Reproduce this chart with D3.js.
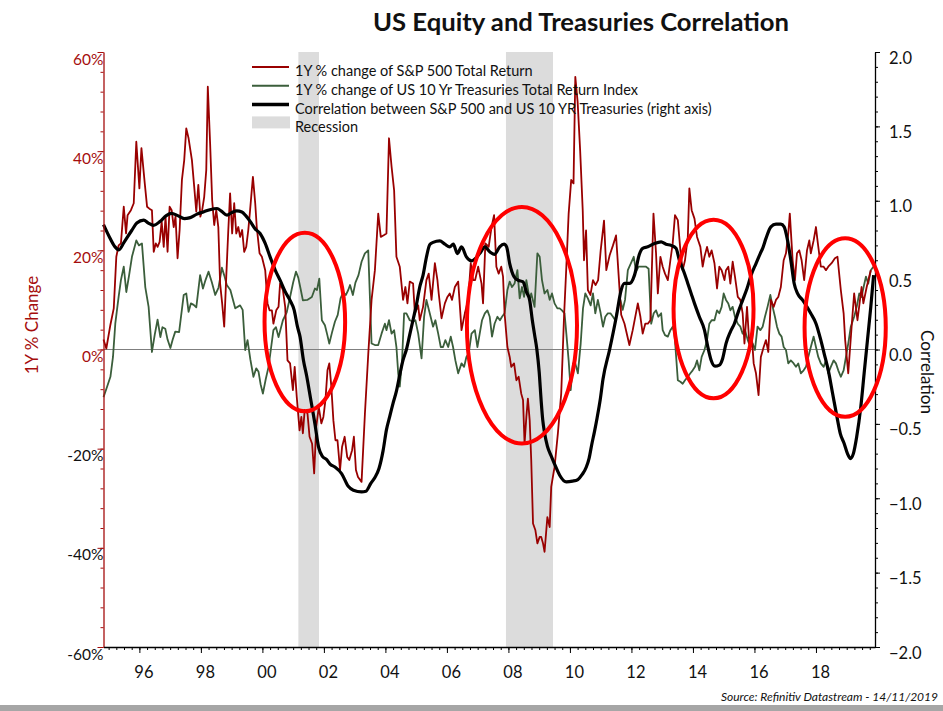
<!DOCTYPE html>
<html>
<head>
<meta charset="utf-8">
<script src="https://cdn.jsdelivr.net/npm/d3@7"></script>
<style>
  body { margin: 0; background: #fff; }
  text { font-family: Lato, "Open Sans", sans-serif; }
</style>
</head>
<body>
<svg width="943" height="711"></svg>
<script>
// monthly observations, first one is Nov 1994
const START = 1994 + 10 / 12;
const END = 2019.92;

// [months since Nov 1994, 1Y % change of S&P 500 total return]
const spx = [
  [0,2],[1.1,0.2],[2.7,5],[4,8.3],[5,18.7],[5.9,21],[6.8,21.4],[7.9,28.8],[8.8,23.4],[9.4,27.1],
  [10.7,28.1],[11.8,29.5],[12.8,41.9],[14,32.5],[14.8,40.6],[16.1,33.5],[17,28.8],[17.9,28.4],[18.9,28.1],
  [19.6,19.7],[20.4,21.4],[21.1,20.7],[21.9,21.7],[22.7,25.8],[23.5,20.7],[24.2,26.8],[25,19.7],[25.8,28.8],
  [26.6,28.1],[27.4,24.7],[28.1,26.8],[28.9,18.4],[29.7,24.1],[30.6,34.2],[31.5,38.2],[32.3,44.6],[33.2,42.6],
  [33.9,40.2],[34.5,38.2],[35.4,32.8],[36.2,27.8],[37,33.2],[37.8,26.8],[38.5,28.1],[39.3,30.8],[40.1,36.2],
  [40.7,53],[41.6,41.6],[42.4,30.1],[43.2,25.1],[44,28.1],[44.8,24.7],[45.5,13.3],[46.3,9.3],[47.1,4.6],
  [47.9,14.7],[48.7,24.1],[49.4,31.5],[50.2,23.4],[51,29.5],[51.8,23.4],[52.6,24.7],[53.3,22.7],[54.1,24.1],
  [54.9,19.7],[55.7,20.7],[56.5,24.1],[57.2,28.1],[58.3,34.8],[59.2,29.5],[59.8,24.7],[60.9,19.4],[61.8,18.7],
  [63.1,16],[64,9.3],[64.8,7.9],[65.7,7.9],[66.3,5.2],[67.4,7.9],[68.3,8.6],[68.9,13.3],[70,12],[70.9,8.6],
  [71.8,-2.2],[72.8,-2.8],[73.9,-8.2],[74.6,-3.5],[75.4,-9.5],[76.5,-16.3],[77.2,-13.6],[77.8,-16.9],
  [78.5,-12.2],[79.6,-12.9],[80.4,-17.6],[81.4,-19],[82.2,-25],[83,-15.6],[84,-11.6],[85,-14.9],[85.8,-13.6],
  [86.6,-10.2],[87.4,-4.2],[88.1,-2.8],[88.9,-7.5],[89.7,-14.3],[90.5,-18.3],[91.3,-18.3],[92.3,-24.3],
  [93.1,-19.6],[94.1,-17.6],[95.1,-21.7],[95.9,-22.3],[97,-20.3],[97.7,-17.6],[98.5,-24.3],[99.3,-25.7],
  [100.7,-26.7],[102,-13],[103.3,-1],[104.6,10],[105.9,16],[107.2,27.4],[108.2,22.7],[109.5,23.1],[110.4,23.4],
  [111.4,42.6],[112.4,36.9],[113.4,32.1],[114.3,18.7],[115.6,16.7],[116.9,10],[117.8,12.6],[118.6,9.3],
  [119.5,13.7],[120.8,13.3],[121.5,7.3],[122.8,8.9],[123.4,5.9],[124.7,8.6],[126,14],[126.9,15.3],[128,10],
  [129.3,17.4],[130.3,14],[130.8,11.3],[131.9,6.3],[133.2,9.3],[134.2,10.6],[135.1,11.3],[136,10],[137.1,12.6],
  [138.4,13.7],[139.7,3.9],[141,7.3],[142.3,10],[143.3,17.4],[144.2,14],[145,14],[146.2,16.7],[147.5,13.3],
  [148.1,9.3],[149,21.4],[150.3,20.7],[151.4,24.7],[152.4,27.1],[153.3,16.7],[154.2,15.3],[155.2,16.7],
  [155.9,14.7],[156.5,7.3],[157.6,0.5],[158.5,-1.5],[159.1,-3.5],[160.2,-2.8],[161.1,-6.2],[162,-5.5],
  [163,-8.9],[163.7,-10.2],[164.3,-19],[165,-13.6],[165.6,-9.9],[166.3,-14.3],[166.9,-22.3],[167.6,-35.1],
  [168.5,-36.4],[169.3,-39.1],[170.2,-37.8],[170.8,-37.8],[171.5,-39.1],[172.1,-40.8],[173.2,-33.8],
  [174.1,-35.8],[174.7,-27.7],[176,-23.7],[177.3,-16.9],[178.6,-8.9],[179.7,6.6],[180.6,16.7],[181.5,27.4],
  [182.5,34.2],[183.4,33.5],[184.1,55],[185,50],[186,40],[187,28],[187.5,18],[188.3,24],[189,12],[190,11],
  [191,14],[192,13],[193,14],[194,20],[195.3,26],[196.2,16],[197.5,19],[198.8,21],[200,23],[201,15],[202,7],
  [203.3,5.2],[205.2,0.9],[206.5,3.9],[208.5,9.3],[209.5,6.6],[210.4,3.2],[211.4,5.2],[212.4,5.2],[213.4,5.9],
  [214.6,27.4],[215.6,19.4],[216.3,11.3],[217.3,18.7],[218.2,16.7],[219.1,15.3],[220.2,14],[221.2,18],
  [222.1,21.4],[223,27.1],[224.1,26.1],[225.1,20],[226,16],[226.9,18],[228,22.7],[228.6,32.5],[229.5,28.1],
  [230.6,26.4],[231.6,22.7],[232.9,20.7],[233.8,16.7],[234.5,18.7],[235.5,20.7],[236.4,18.7],[237.3,20],
  [238.4,17.4],[239.4,12.3],[240.3,16.7],[241.2,16],[242.3,14],[242.9,16],[243.8,16.7],[244.6,13.3],
  [245.5,17.7],[246.4,14.7],[247.5,10.6],[248.5,10],[249.4,7.3],[250.1,1.2],[251.1,8.6],[252,1.2],[252.9,3.2],
  [253.7,-2.8],[254.6,-4.8],[255.6,-9.2],[256.5,-1.5],[257.6,0.5],[258.5,1.9],[259.4,-0.5],[260.4,10],
  [261.5,8.6],[262.4,10],[263.3,10.6],[264.3,12.6],[265.4,18],[266.3,19.4],[267.2,23.4],[267.8,27.4],
  [268.9,18],[269.8,14],[270.6,19.4],[271.5,20],[272.4,18],[273.4,14],[274.5,20],[275.4,22],[276,19.4],
  [277.1,22],[278,24.7],[278.6,22],[279.9,16.7],[281,16.7],[281.9,16],[282.8,16.7],[284.1,17.4],[285.4,18.4],
  [286.4,18.7],[287.7,12],[288.8,7.3],[289.4,1.9],[290.6,-4.8],[292,5.2],[292.9,11.3],[294.2,5.9],
  [295.8,12.6],[296.5,9.3],[297.8,12.6],[299.4,16]
];

// [months since Nov 1994, 1Y % change of US 10 Yr Treasuries total return index]
const bonds = [
  [0,-9.6],[1.4,-7.5],[2.7,-5.5],[3.7,-1.5],[4.6,5.2],[5.9,10.6],[6.8,14],[7.9,16.7],[8.9,11.6],[10,15],
  [11.1,18.7],[12.8,22],[13.8,21],[15,21.4],[16.3,12.6],[17.6,8.6],[18.9,-0.5],[20,3],[21.1,6],[22.2,2.5],
  [23,4.5],[24.1,4.2],[25,2],[26.1,0.3],[27,2],[28,3.6],[29.5,3.5],[31.3,11],[32.3,11.3],[33.2,7.6],[34.1,9.3],
  [35.2,9],[36.2,8.5],[37.7,15],[38.8,12.3],[39.8,14],[41,15.7],[42.3,13.5],[43.6,11],[44.9,12.5],[46.2,16.5],
  [47.2,14.8],[48.1,13],[49.5,12],[51.4,8.3],[53.3,8.9],[54.3,8],[55.3,-0.1],[56.2,1.9],[57.3,-2],[58.5,-5.5],
  [59.6,-3.8],[60.5,-4.5],[61.3,-7],[62.2,-8.9],[63.3,-6],[64.4,-3.5],[65.3,0],[66.3,3.9],[67.3,4.5],
  [68.3,2.5],[70,5.9],[71.5,7.5],[72.8,10.6],[74,13.5],[75.1,15.7],[76,14.5],[77,12],[77.8,9.9],[79.5,10],
  [81.3,10.6],[82.5,12.3],[83.3,12],[84.2,14.3],[85.2,5.9],[86.4,4.9],[87.3,3],[88.1,1.2],[89.2,3.5],
  [90.3,5.6],[91.4,7],[92.5,10.3],[93.5,11.5],[94.6,11],[95.5,12],[96.2,13],[97.3,11],[98.3,13.5],[99.5,15],
  [100.7,17.7],[102,19.4],[103.3,20],[104.6,1.2],[105.9,0.9],[107.2,0.9],[108.5,3.2],[109.8,5.2],[110.4,3.9],
  [111.4,5.9],[112.4,3.2],[113.4,3.9],[114.3,0.5],[115,-4.8],[115.6,-7.5],[116.5,-2.2],[117.3,7.3],
  [118.2,7.3],[119.5,5.9],[120.8,5.6],[121.7,5.9],[122.8,3.2],[124.1,-1.8],[125.1,6.6],[126,10],[127.3,7.3],
  [128.6,4.6],[129.5,5.9],[130.6,3.2],[131.6,0.5],[132.5,0.5],[133.4,1.9],[134.5,0.5],[135.5,2.6],[136.4,0.5],
  [137.3,-2.2],[138.4,-4.8],[139.7,-2.8],[140.7,-3.5],[141.6,-1.5],[142.5,-0.8],[143.6,3.2],[144.9,3.9],
  [145.9,0.5],[146.8,3.2],[147.7,5.9],[148.8,7.3],[149.8,7.9],[150.7,6.6],[151.6,2.6],[152.6,5.2],[153.7,6.6],
  [154.7,5.9],[155.5,6.6],[156.5,7.3],[157.6,12],[158.5,13.7],[159.4,12.6],[160.4,13.3],[161.5,16],
  [162.4,10.3],[163.3,12.6],[164.1,10.6],[165,14],[166.3,10],[166.9,11.3],[168.2,8.6],[169.3,19.4],
  [170.2,18.7],[171.1,14],[172.1,11.3],[173.2,12],[174.1,10],[175,11.3],[176,9.3],[177.1,8.3],[178,8.3],
  [178.9,7.9],[179.9,7.3],[180.6,3.2],[181.5,-2.2],[182.3,-8.2],[183.2,-2.8],[184.1,-2.8],[185.1,-4.8],
  [186.2,1.2],[187.1,8.3],[188,11.3],[189,10.3],[190.1,8.9],[191,11.3],[191.9,7.3],[192.9,10],[194,7.3],
  [194.9,4.6],[195.8,6.6],[196.8,7.3],[197.8,7.3],[198.8,6.6],[199.7,5.9],[200.7,8.6],[201.7,10],[202.6,8],
  [203.5,10],[204.6,16],[206.9,18.7],[207.8,15.7],[208.8,16.7],[209.8,16.7],[210.8,16.7],[211.7,16.7],
  [212.7,16.3],[213.7,5.2],[214.7,7.3],[215.6,7.9],[216.5,6.6],[217.6,7.3],[218.2,3.9],[219.1,2.9],
  [220.2,2.6],[221.2,3.9],[222.1,4.6],[222.8,3.2],[224.1,-6.2],[225.1,-6.5],[226,-6.9],[226.9,-6.2],[228,-5.5],
  [229,-4.8],[229.9,-4.2],[230.8,-3.5],[231.6,-2.2],[232.5,-4.2],[233.4,-1.5],[234.5,-0.1],[235.5,1.9],
  [236.4,5.2],[237.3,5.9],[238.4,5.9],[239.4,7.9],[240.3,7.3],[241.2,8.6],[242,11.3],[242.9,10],[243.8,9.3],
  [244.6,7.9],[245.5,8.6],[246.4,6.6],[247.5,5.2],[248.5,4.6],[249.4,3.2],[250.3,3.9],[251.4,1.9],[252.4,0.5],
  [253.3,1.2],[254.2,-0.1],[255.2,4.6],[256.3,3.9],[257.2,4.6],[258.1,6.6],[259.1,8.6],[260.2,11],[261.1,8.6],
  [262,6.6],[262.8,4.6],[263.7,3.2],[264.6,2.6],[265.4,0.5],[266.3,-0.1],[267.2,-2.8],[268.2,-2.2],
  [269.3,-2.8],[270.2,-3.5],[271.1,-2.8],[272.1,-4.8],[273.2,-4.2],[274.1,-3.5],[275,-1.5],[276,0.5],
  [277.1,2.6],[278,0.5],[278.9,-1.5],[279.9,-2.8],[281,-3.5],[281.9,-2.2],[282.8,-4.8],[283.8,-3.5],
  [284.9,-2.2],[285.8,-2.8],[286.7,-4.2],[287.7,-5.5],[288.8,-4.2],[289.7,-1.5],[290.6,1.2],[291.6,4.6],
  [292.9,6.6],[293.9,8.6],[294.9,11.3],[295.8,10.6],[296.6,12.6],[297.5,14.7],[298.4,13.3],[299.4,16],
  [300.4,16.7]
];

// [months since Nov 1994, correlation between S&P 500 and US 10 YR Treasuries] (right axis)
const corr = [
  [0,0.84],[2.5,0.75],[4.5,0.69],[6,0.67],[8,0.72],[11,0.8],[13,0.85],[15.7,0.87],[17.5,0.85],[19.6,0.835],
  [22,0.86],[24.5,0.9],[26.5,0.915],[29,0.9],[31.5,0.88],[33.5,0.885],[36.5,0.91],[39,0.925],[41.5,0.94],
  [44.3,0.948],[46,0.93],[48.2,0.903],[50,0.92],[52,0.932],[54,0.925],[55.5,0.9],[57.3,0.86],[59.2,0.81],
  [61.1,0.78],[63.1,0.713],[65,0.623],[67,0.534],[68.9,0.466],[70.9,0.388],[72.8,0.33],[74.4,0.265],
  [75.7,0.152],[76.7,0.085],[78,-0.07],[79.3,-0.18],[80.9,-0.34],[82.5,-0.5],[83.9,-0.655],[85.5,-0.72],
  [87.1,-0.74],[88.4,-0.77],[90.3,-0.79],[92.9,-0.834],[95.5,-0.92],[97.5,-0.946],[100.7,-0.957],
  [102.4,-0.953],[104.3,-0.9],[105.9,-0.86],[107.5,-0.8],[109.1,-0.68],[110.4,-0.54],[111.7,-0.45],
  [113,-0.36],[114.3,-0.28],[115.6,-0.17],[116.9,-0.07],[118.2,0],[119.5,0.1],[120.8,0.2],[122.1,0.3],
  [123.4,0.42],[124.7,0.5],[126,0.62],[127.3,0.705],[128.6,0.72],[131.2,0.73],[133.2,0.708],[135.1,0.69],
  [136.5,0.708],[138.1,0.645],[139.7,0.69],[141.6,0.623],[143.6,0.596],[146.8,0.645],[148.8,0.69],
  [150.7,0.657],[152.6,0.64],[154.6,0.69],[156.3,0.708],[157.3,0.69],[158.5,0.578],[160.2,0.489],
  [161.7,0.466],[163.7,0.455],[165,0.388],[166.3,0.33],[167.3,0.2],[168.2,0.1],[169.1,0],[170,-0.15],
  [170.8,-0.35],[171.4,-0.475],[172.1,-0.56],[173.2,-0.65],[174.8,-0.72],[176.5,-0.79],[178,-0.845],
  [180.6,-0.89],[183,-0.885],[185.1,-0.874],[186.8,-0.84],[188.4,-0.79],[189.5,-0.73],[190.5,-0.64],
  [191.6,-0.55],[192.6,-0.46],[193.8,-0.34],[194.9,-0.2],[197.5,0],[200.1,0.22],[202,0.4],[203.3,0.444],
  [205.3,0.444],[207.2,0.5],[209.1,0.64],[210.4,0.68],[212.4,0.69],[215,0.713],[217.6,0.724],[219.5,0.708],
  [221.5,0.7],[223.4,0.68],[224.7,0.6],[226.7,0.511],[228,0.444],[229.3,0.377],[230.6,0.31],[232.5,0.22],
  [234.5,0.13],[235.8,0.018],[237.1,-0.072],[238.6,-0.112],[240.3,-0.105],[241.6,-0.06],[242.9,0.04],
  [244.6,0.119],[246.2,0.175],[247.7,0.253],[249.4,0.332],[251.1,0.41],[252.7,0.5],[254.6,0.578],
  [256.3,0.646],[257.2,0.68],[258.5,0.747],[260.4,0.825],[262.4,0.843],[264.3,0.843],[265.6,0.825],
  [266.9,0.735],[268.2,0.6],[269.5,0.444],[270.8,0.377],[272.8,0.332],[274.5,0.287],[276,0.242],[278,0.175],
  [279.9,0.063],[281.2,-0.027],[282.8,-0.139],[284.5,-0.296],[286.2,-0.453],[287.5,-0.565],[289,-0.632],
  [290.3,-0.7],[291.4,-0.733],[292.6,-0.7],[293.9,-0.587],[295.5,-0.386],[296.8,-0.161],[298.1,0.063],
  [299.4,0.287],[300.5,0.5]
];

// NBER recessions, decimal years
const recessions = [[2001.17, 2001.84], [2007.92, 2009.45]];

// red circled periods: centre (year, correlation) and half-widths (years, correlation)
const circles = [
  { t: 2001.38, c: 0.185, dt: 1.31, dc: 0.6 },
  { t: 2008.44, c: 0.163, dt: 1.79, dc: 0.795 },
  { t: 2014.67, c: 0.272, dt: 1.3, dc: 0.6 },
  { t: 2018.95, c: 0.148, dt: 1.32, dc: 0.6 }
];

const pctTicks = [60, 40, 20, 0, -20, -40, -60];
const corrTicks = [2, 1.5, 1, 0.5, 0, -0.5, -1, -1.5, -2];
const yearTicks = d3.range(1996, 2019, 2);

const legendItems = [
  { label: "1Y % change of S&P 500 Total Return", color: "#990000", type: "line", w: 2 },
  { label: "1Y % change of US 10 Yr Treasuries Total Return Index", color: "#3b5e3b", type: "line", w: 2 },
  { label: "Correlation between S&P 500 and US 10 YR Treasuries (right axis)", color: "#000", type: "line", w: 3.5 },
  { label: "Recession", color: "#dcdcdc", type: "box" }
];

const plot = { left: 103.5, right: 875, top: 52, bottom: 647 };
const darkRed = "#a50d0d";

const svg = d3.select("svg");

const x = d3.scaleLinear().domain([START, END]).range([plot.left, plot.right]);
const yL = d3.scaleLinear().domain([-60, 60]).range([plot.bottom, plot.top]);
const yR = d3.scaleLinear().domain([-2, 2]).range([plot.bottom, plot.top]);
const t = m => START + m / 12;

// recession shading
svg.append("g")
  .selectAll("rect")
  .data(recessions)
  .join("rect")
  .attr("x", d => x(d[0]))
  .attr("width", d => x(d[1]) - x(d[0]))
  .attr("y", plot.top)
  .attr("height", plot.bottom - plot.top)
  .attr("fill", "#dcdcdc");

// zero line
svg.append("line")
  .attr("x1", plot.left).attr("x2", plot.right)
  .attr("y1", yL(0)).attr("y2", yL(0))
  .attr("stroke", "#7f7f7f").attr("stroke-width", 1);

// series
const pctLine = d3.line().x(d => x(t(d[0]))).y(d => yL(d[1]));
const corrLine = d3.line().x(d => x(t(d[0]))).y(d => yR(d[1])).curve(d3.curveMonotoneX);

svg.append("path").datum(bonds)
  .attr("d", pctLine).attr("fill", "none")
  .attr("stroke", "#3b5e3b").attr("stroke-width", 1.8).attr("stroke-linejoin", "round");

svg.append("path").datum(spx)
  .attr("d", pctLine).attr("fill", "none")
  .attr("stroke", "#990000").attr("stroke-width", 1.8).attr("stroke-linejoin", "round");

svg.append("path").datum(corr)
  .attr("d", corrLine).attr("fill", "none")
  .attr("stroke", "#000").attr("stroke-width", 3.2).attr("stroke-linejoin", "round");

// left axis
const leftMinor = svg.append("g")
  .attr("transform", `translate(${plot.left},0)`)
  .call(d3.axisLeft(yL).tickValues(d3.range(-60, 61, 4)).tickSize(3).tickFormat(""));
leftMinor.select(".domain").remove();
leftMinor.selectAll("line").attr("stroke", darkRed);

const leftAxis = svg.append("g")
  .attr("transform", `translate(${plot.left},0)`)
  .call(d3.axisLeft(yL).tickValues(pctTicks).tickSize(6).tickSizeOuter(0).tickFormat(d => d + "%"));
leftAxis.select(".domain").attr("stroke", darkRed).attr("stroke-width", 1.3);
leftAxis.selectAll("line").attr("stroke", darkRed);
leftAxis.selectAll("text")
  .attr("x", 0).attr("dy", 12)
  .attr("font-size", 15.5)
  .attr("font-family", "Lato, sans-serif")
  .attr("fill", d => d >= 0 ? darkRed : "#111");

// right axis
const rightMinor = svg.append("g")
  .attr("transform", `translate(${plot.right},0)`)
  .call(d3.axisRight(yR).tickValues(d3.range(-20, 21).map(d => d / 10)).tickSize(3).tickFormat(""));
rightMinor.select(".domain").remove();

const rightAxis = svg.append("g")
  .attr("transform", `translate(${plot.right},0)`)
  .call(d3.axisRight(yR).tickValues(corrTicks).tickSize(5).tickSizeOuter(0).tickFormat(d3.format(".1f")));
rightAxis.select(".domain").attr("stroke-width", 1.3);
rightAxis.selectAll("text")
  .attr("x", 14).attr("dy", 11)
  .attr("font-size", 16.5)
  .attr("font-family", "Lato, sans-serif")
  .attr("fill", "#111");

// bottom axis
const bottomMinor = svg.append("g")
  .attr("transform", `translate(0,${plot.bottom})`)
  .call(d3.axisBottom(x).tickValues(d3.range(1995, 2020, 0.25)).tickSize(3).tickFormat(""));
bottomMinor.select(".domain").remove();

const bottomAxis = svg.append("g")
  .attr("transform", `translate(0,${plot.bottom})`)
  .call(d3.axisBottom(x).tickValues(yearTicks).tickSize(6).tickSizeOuter(0)
    .tickFormat(d => String(d).slice(2)));
bottomAxis.select(".domain").attr("stroke-width", 1.3);
bottomAxis.selectAll("text")
  .attr("y", 19).attr("dx", 4)
  .attr("font-size", 16.5)
  .attr("font-family", "Lato, sans-serif")
  .attr("fill", "#111");

// red circles marking the periods of interest
svg.append("g")
  .selectAll("ellipse")
  .data(circles)
  .join("ellipse")
  .attr("cx", d => x(d.t))
  .attr("cy", d => yR(d.c))
  .attr("rx", d => x(d.t + d.dt) - x(d.t))
  .attr("ry", d => yR(0) - yR(d.dc))
  .attr("fill", "none")
  .attr("stroke", "#ff0000")
  .attr("stroke-width", 4);

// legend
const legend = svg.append("g").attr("transform", "translate(252,67)");
const rows = legend.selectAll("g")
  .data(legendItems)
  .join("g")
  .attr("transform", (d, i) => `translate(0,${i * 18.8})`);
rows.filter(d => d.type === "line").append("line")
  .attr("x1", 0).attr("x2", 37)
  .attr("stroke", d => d.color).attr("stroke-width", d => d.w);
rows.filter(d => d.type === "box").append("rect")
  .attr("x", 0).attr("y", -7).attr("width", 38).attr("height", 12)
  .attr("fill", d => d.color);
rows.append("text")
  .attr("x", 43).attr("y", 9)
  .attr("font-size", 14.5)
  .attr("fill", "#111")
  .text(d => d.label);

// titles
svg.append("text")
  .attr("x", 581).attr("y", 31)
  .attr("text-anchor", "middle")
  .attr("font-size", 24).attr("font-weight", "bold")
  .attr("textLength", 416).attr("lengthAdjust", "spacingAndGlyphs")
  .attr("fill", "#111")
  .text("US Equity and Treasuries Correlation");

svg.append("text")
  .attr("transform", "translate(38,325) rotate(-90)")
  .attr("text-anchor", "middle")
  .attr("font-size", 17)
  .attr("fill", darkRed)
  .text("1Y % Change");

svg.append("text")
  .attr("transform", "translate(921,372) rotate(90)")
  .attr("text-anchor", "middle")
  .attr("font-size", 17)
  .attr("fill", "#111")
  .text("Correlation");

svg.append("text")
  .attr("x", 938).attr("y", 701)
  .attr("text-anchor", "end")
  .attr("font-size", 12).attr("font-style", "italic")
  .attr("fill", "#111")
  .text("Source: Refinitiv Datastream - 14/11/2019");

svg.append("rect")
  .attr("x", 0).attr("y", 705).attr("width", 943).attr("height", 6)
  .attr("fill", "#a6a6a6");
</script>
</body>
</html>
